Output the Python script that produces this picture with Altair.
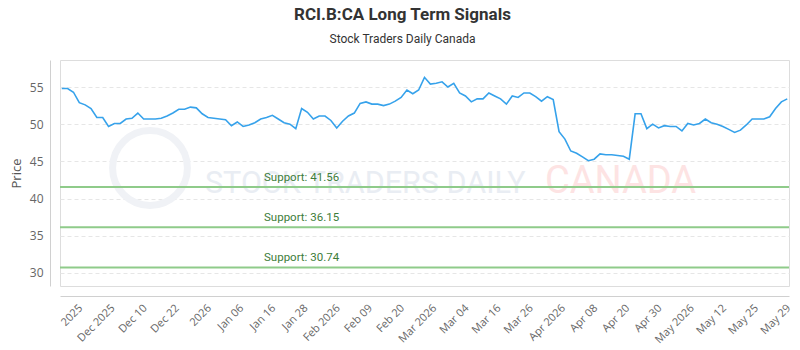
import json
import altair as alt
import pandas as pd

# ---- data ----
prices = [
    54.8, 54.8, 54.3, 52.9, 52.6, 52.1, 50.9, 50.9, 49.7, 50.1, 50.1, 50.7, 50.8, 51.5, 50.7, 50.7,
    50.7, 50.8, 51.1, 51.5, 52.0, 52.0, 52.3, 52.2, 51.4, 50.9, 50.8, 50.7, 50.6, 49.8, 50.3, 49.7,
    49.9, 50.2, 50.7, 50.9, 51.2, 50.7, 50.2, 50.0, 49.4, 52.1, 51.6, 50.7, 51.1, 51.1, 50.5, 49.5,
    50.4, 51.1, 51.5, 52.8, 53.0, 52.7, 52.7, 52.5, 52.7, 53.1, 53.6, 54.6, 54.1, 54.6, 56.3,
    55.4, 55.5, 55.7, 55.0, 55.5, 54.2, 53.8, 53.0, 53.4, 53.4, 54.2, 53.8, 53.4, 52.7, 53.8, 53.6,
    54.2, 54.2, 53.7, 53.1, 53.7, 53.3, 49.0, 48.0, 46.4, 46.1, 45.6, 45.1, 45.3, 46.0, 45.9, 45.9,
    45.8, 45.7, 45.3, 51.4, 51.4, 49.4, 50.0, 49.5, 49.8, 49.7, 49.7, 49.1, 50.1, 49.9, 50.1, 50.7,
    50.2, 50.0, 49.7, 49.3, 48.9, 49.2, 49.9, 50.7, 50.7, 50.7, 51.0, 52.1, 53.0, 53.4,
]
tick_labels = ["2025", "Dec 2025", "Dec 10", "Dec 22", "2026", "Jan 06", "Jan 16", "Jan 28",
               "Feb 2026", "Feb 09", "Feb 20", "Mar 2026", "Mar 04", "Mar 16", "Mar 26",
               "Apr 2026", "Apr 08", "Apr 20", "Apr 30", "May 2026", "May 12", "May 25", "May 29"]
support_levels = [41.56, 36.15, 30.74]
support_names = ["Support: 41.56", "Support: 36.15", "Support: 30.74"]

price_df = pd.DataFrame({"idx": list(range(len(prices))), "price": prices})
support_df = pd.DataFrame({"level": support_levels, "label": support_names})

# axis layout (styling)
tick_start, tick_step = 2.5, 5.5
tick_values = [tick_start + tick_step * k for k in range(len(tick_labels))]
label_expr = f"{json.dumps(tick_labels)}[round((datum.value - {tick_start}) / {tick_step})]"

x_scale = alt.Scale(domain=[-0.3, len(prices) - 1 + 0.3], nice=False, zero=False)
y_scale = alt.Scale(domain=[28.25, 58.63], nice=False, zero=False)

FONT = "Open Sans"

line = alt.Chart(price_df).mark_line(color="#36a2eb", strokeWidth=1.6).encode(
    x=alt.X("idx:Q", scale=x_scale,
            axis=alt.Axis(values=tick_values, labelExpr=label_expr, title=None, grid=False,
                          ticks=False, labelAngle=-45, labelFontSize=11, labelColor="#666",
                          labelFont=FONT, labelPadding=6, offset=10, domainColor="#d0d0d0",
                          labelOverlap=False, labelBound=False, labelFlush=False)),
    y=alt.Y("price:Q", scale=y_scale,
            axis=alt.Axis(values=[30, 35, 40, 45, 50, 55], title="Price", grid=True,
                          gridDash=[4, 3], gridColor="#e6e6e6", ticks=False, offset=10,
                          domainColor="#d0d0d0", labelFontSize=12, labelColor="#666",
                          labelFont=FONT, labelPadding=7, titleFont=FONT, titleFontSize=13,
                          titleFontWeight="normal", titleColor="#555", titlePadding=6)),
)

rules = alt.Chart(support_df).mark_rule(color="#8fcb8a", strokeWidth=2).encode(
    y=alt.Y("level:Q", scale=y_scale)
)

support_text = alt.Chart(support_df).mark_text(
    align="left", baseline="bottom", dy=-4, fontSize=11.5, font="Roboto", color="#3d7d3a"
).encode(x=alt.value(204), y=alt.Y("level:Q", scale=y_scale), text="label:N")

# decorative watermark
wm_logo = alt.Chart(pd.DataFrame({"k": [0]})).mark_point(
    shape="circle", size=5600, stroke="#f0f2f6", strokeWidth=7, filled=False, opacity=1
).encode(x=alt.value(90), y=alt.value(108))
wm_text1 = alt.Chart(pd.DataFrame({"t": ["STOCK TRADERS DAILY"]})).mark_text(
    align="left", baseline="alphabetic", fontSize=30.5, font="Roboto",
    color="#e9edf3"
).encode(x=alt.value(145), y=alt.value(133), text="t:N")
wm_text2 = alt.Chart(pd.DataFrame({"t": ["CANADA"]})).mark_text(
    align="left", baseline="alphabetic", fontSize=38, font="Roboto",
    color="#fde3e3"
).encode(x=alt.value(485), y=alt.value(133), text="t:N")

chart = alt.layer(wm_logo, wm_text1, wm_text2, rules, line, support_text).properties(
    width=729, height=226,
    autosize=alt.AutoSizeParams(type="none"),
    padding={"left": 60, "top": 60, "right": 11, "bottom": 64},
    title=alt.TitleParams(
        text="RCI.B:CA Long Term Signals", subtitle="Stock Traders Daily Canada",
        anchor="middle", dx=-22, offset=14, font="Roboto", fontSize=17, fontWeight="bold",
        color="#333", subtitleFont="Roboto", subtitleFontSize=12, subtitleColor="#333",
        subtitlePadding=10,
    ),
).configure_view(stroke="#999", strokeWidth=1).configure(background="white")

chart.save("out.html", embed_options={"renderer": "svg", "actions": False})
